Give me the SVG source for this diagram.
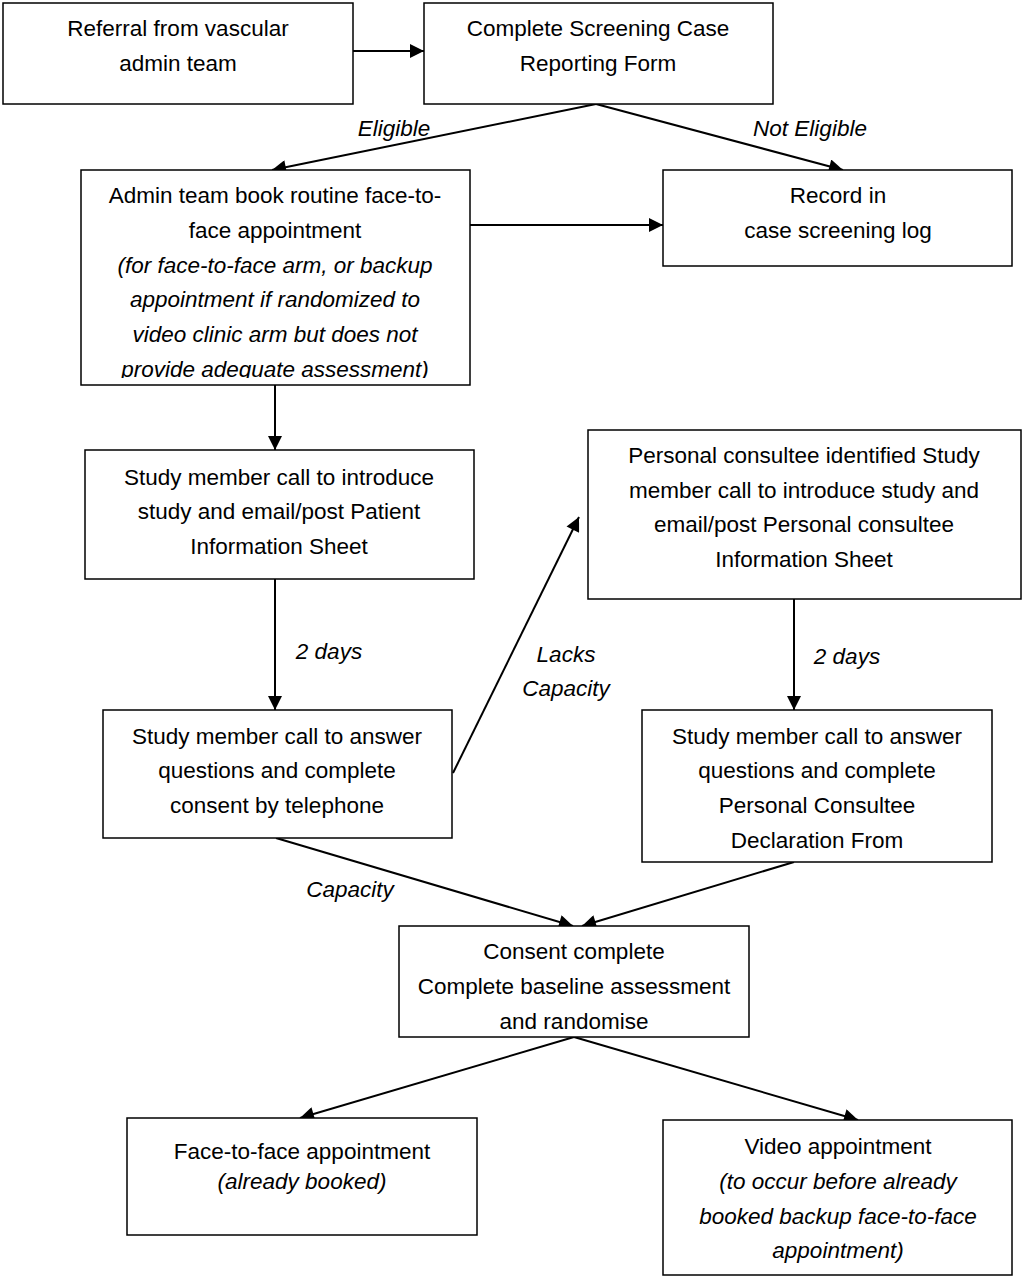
<svg xmlns="http://www.w3.org/2000/svg" width="1025" height="1280" viewBox="0 0 1025 1280">
<style>
.box{fill:#fff;stroke:#000;stroke-width:1.5}
.t{font-family:"Liberation Sans",Arial,sans-serif;font-size:22.5px;fill:#000;text-anchor:middle}
.i{font-style:italic}
.c{stroke:#000;stroke-width:2;fill:none;marker-end:url(#ahb)}
</style>
<defs>
<marker id="ahb" viewBox="0 0 10 10" refX="10" refY="5" markerWidth="18" markerHeight="14" orient="auto" markerUnits="userSpaceOnUse"><path d="M0,0 L10,5 L0,10 z" fill="#000"/></marker>
<clipPath id="adminClip"><rect x="81" y="170" width="389" height="208"/></clipPath>
</defs>
<rect width="1025" height="1280" fill="#fff"/>
<g id="connectors">
<line class="c" x1="353" y1="51" x2="424" y2="51"/>
<line class="c" x1="596" y1="104" x2="272" y2="170"/>
<line class="c" x1="596" y1="104" x2="843" y2="170"/>
<line class="c" x1="470" y1="225" x2="663" y2="225"/>
<line class="c" x1="275" y1="385" x2="275" y2="450"/>
<line class="c" x1="275" y1="579" x2="275" y2="710"/>
<line class="c" x1="453" y1="773" x2="579" y2="517"/>
<line class="c" x1="794" y1="599" x2="794" y2="710"/>
<line class="c" x1="276" y1="838" x2="573" y2="926"/>
<line class="c" x1="794" y1="862" x2="582" y2="926"/>
<line class="c" x1="574" y1="1037" x2="300" y2="1118"/>
<line class="c" x1="574" y1="1037" x2="858" y2="1120"/>
<text class="t i" x="394" y="136">Eligible</text>
<text class="t i" x="810" y="136">Not Eligible</text>
<text class="t i" x="329" y="659">2 days</text>
<text class="t i" x="566" y="662">Lacks</text>
<text class="t i" x="566" y="696">Capacity</text>
<text class="t i" x="847" y="664">2 days</text>
<text class="t i" x="350" y="897">Capacity</text>
</g>
<g id="referral">
<rect class="box" x="3" y="3" width="350" height="101"/>
<text class="t" x="178" y="36">Referral from vascular</text>
<text class="t" x="178" y="71">admin team</text>
</g>
<g id="screening">
<rect class="box" x="424" y="3" width="349" height="101"/>
<text class="t" x="598" y="36">Complete Screening Case</text>
<text class="t" x="598" y="71">Reporting Form</text>
</g>
<g id="admin">
<rect class="box" x="81" y="170" width="389" height="215"/>
<g clip-path="url(#adminClip)">
<text class="t" x="275" y="203">Admin team book routine face-to-</text>
<text class="t" x="275" y="238">face appointment</text>
<text class="t i" x="275" y="273">(for face-to-face arm, or backup</text>
<text class="t i" x="275" y="307">appointment if randomized to</text>
<text class="t i" x="275" y="342">video clinic arm but does not</text>
<text class="t i" x="275" y="377">provide adequate assessment)</text>
</g>
</g>
<g id="record">
<rect class="box" x="663" y="170" width="349" height="96"/>
<text class="t" x="838" y="203">Record in</text>
<text class="t" x="838" y="238">case screening log</text>
</g>
<g id="intro">
<rect class="box" x="85" y="450" width="389" height="129"/>
<text class="t" x="279" y="485">Study member call to introduce</text>
<text class="t" x="279" y="519">study and email/post Patient</text>
<text class="t" x="279" y="554">Information Sheet</text>
</g>
<g id="consultee">
<rect class="box" x="588" y="430" width="433" height="169"/>
<text class="t" x="804" y="463">Personal consultee identified Study</text>
<text class="t" x="804" y="498">member call to introduce study and</text>
<text class="t" x="804" y="532">email/post Personal consultee</text>
<text class="t" x="804" y="567">Information Sheet</text>
</g>
<g id="consent-phone">
<rect class="box" x="103" y="710" width="349" height="128"/>
<text class="t" x="277" y="744">Study member call to answer</text>
<text class="t" x="277" y="778">questions and complete</text>
<text class="t" x="277" y="813">consent by telephone</text>
</g>
<g id="declaration">
<rect class="box" x="642" y="710" width="350" height="152"/>
<text class="t" x="817" y="744">Study member call to answer</text>
<text class="t" x="817" y="778">questions and complete</text>
<text class="t" x="817" y="813">Personal Consultee</text>
<text class="t" x="817" y="848">Declaration From</text>
</g>
<g id="consent-complete">
<rect class="box" x="399" y="926" width="350" height="111"/>
<text class="t" x="574" y="959">Consent complete</text>
<text class="t" x="574" y="994">Complete baseline assessment</text>
<text class="t" x="574" y="1029">and randomise</text>
</g>
<g id="f2f">
<rect class="box" x="127" y="1118" width="350" height="117"/>
<text class="t" x="302" y="1159">Face-to-face appointment</text>
<text class="t i" x="302" y="1189">(already booked)</text>
</g>
<g id="video">
<rect class="box" x="663" y="1120" width="349" height="155"/>
<text class="t" x="838" y="1154">Video appointment</text>
<text class="t i" x="838" y="1189">(to occur before already</text>
<text class="t i" x="838" y="1224">booked backup face-to-face</text>
<text class="t i" x="838" y="1258">appointment)</text>
</g>
</svg>
